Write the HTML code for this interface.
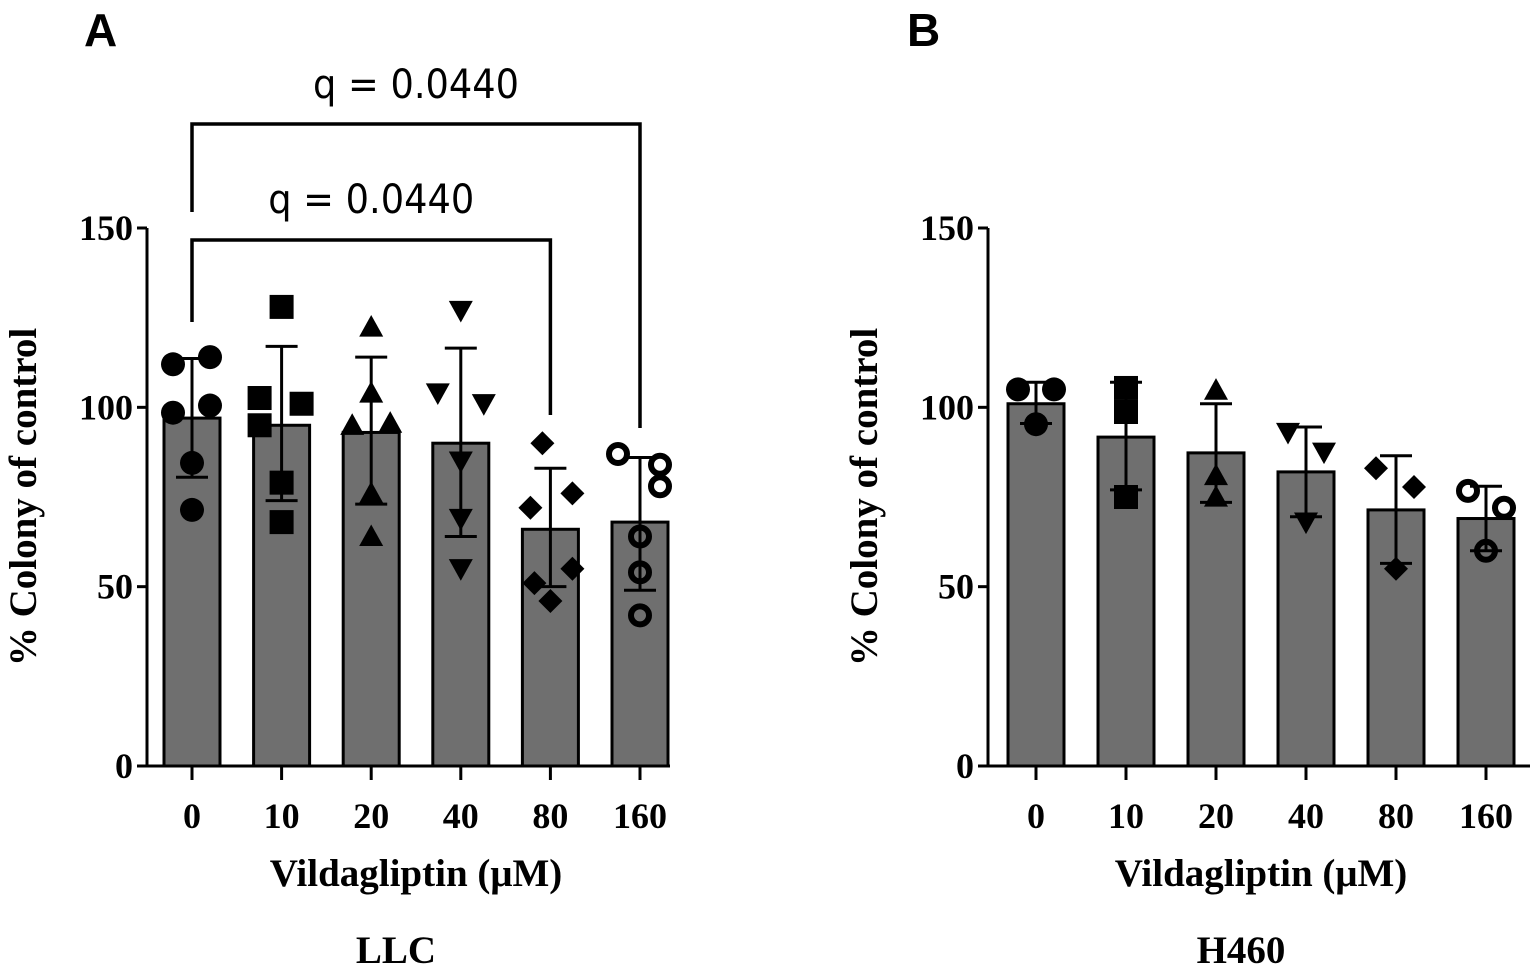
<!DOCTYPE html>
<html><head><meta charset="utf-8"><style>
html,body{margin:0;padding:0;background:#fff;}
svg{display:block;}
.tk{font-family:"Liberation Serif",serif;font-weight:bold;font-size:36px;}
.ttl{font-family:"Liberation Serif",serif;font-weight:bold;font-size:39px;}
.q{font-family:"DejaVu Sans","Liberation Sans",sans-serif;font-size:40px;}
.pl{font-family:"Liberation Sans",sans-serif;font-weight:bold;font-size:46px;}
</style></head><body>
<svg id="chart" width="1535" height="976" viewBox="0 0 1535 976"></svg>
<script>
const categories = ["0","10","20","40","80","160"];
const yTicks = [0,50,100,150];
const llcMeans = [97,95,93,90,66,68];
const llcErrHi = [113.6,117,114,116.5,83,86];
const llcErrLo = [80.5,74,73,64,50,49];
const llcPoints = [
  [112,114,98.5,100.5,84.5,71.4],
  [128,102.6,101,95,79,68],
  [122.4,104,95,95.6,76,64],
  [127,104,101,85,69,55],
  [90,76,72,55,51,46],
  [87,84,78,64,54,42]
];
const h460Means = [101,91.7,87.3,82,71.4,69];
const h460ErrHi = [107,107,101,94.5,86.5,78];
const h460ErrLo = [95.5,77,73.5,69.5,56.5,60];
const h460Points = [
  [105,105,95.3],
  [105.4,98.7,75],
  [104.8,81,75],
  [93,87.5,68],
  [83,77.8,55],
  [76.7,72,60]
];
const comparisons = [[0,4,"q = 0.0440"],[0,5,"q = 0.0440"]];

const NS="http://www.w3.org/2000/svg";
const svg=document.getElementById('chart');
function mk(tag,attrs,parent){const e=document.createElementNS(NS,tag);for(const k in attrs)e.setAttribute(k,attrs[k]);(parent||svg).appendChild(e);return e;}
const markers=["circle","square","up","down","diamond","ring"];
const jitA=[[-19,18,-19,18,0,0],[0,-22,20,-22,0,0],[0,0,-19,19,0,0],[0,-23,23,0,0,0],[-8,22,-20,22,-16,0],[-22,20,20,0,0,0]];
const jitB=[[-18,18,0],[0,0,0],[0,0,0],[-18,18,0],[-20,18,0],[-18,18,0]];
function marker(g,type,cx,cy){
  const r=12;
  if(type==="circle")mk('circle',{cx:cx,cy:cy,r:r,fill:'#000'},g);
  else if(type==="square")mk('rect',{x:cx-r,y:cy-r,width:2*r,height:2*r,fill:'#000'},g);
  else if(type==="up")mk('polygon',{points:`${cx},${cy-r} ${cx+r},${cy+r*0.8} ${cx-r},${cy+r*0.8}`,fill:'#000'},g);
  else if(type==="down")mk('polygon',{points:`${cx-r},${cy-r*0.8} ${cx+r},${cy-r*0.8} ${cx},${cy+r}`,fill:'#000'},g);
  else if(type==="diamond")mk('polygon',{points:`${cx},${cy-r} ${cx+r},${cy} ${cx},${cy+r} ${cx-r},${cy}`,fill:'#000'},g);
  else mk('circle',{cx:cx,cy:cy,r:r-3,fill:'none',stroke:'#000','stroke-width':6},g);
}
function panel(o){
  const y=v=>766-v*(538/150);
  const x=i=>o.x0+i*o.step;
  const g=mk('g',{});
  
  
  o.means.forEach((m,i)=>{
    const b=mk('rect',{x:x(i)-28,y:y(m),width:56,height:766-y(m),fill:'#6f6f6f',stroke:'#000','stroke-width':3},g);
    
    
  });
  o.points.forEach((arr,i)=>{arr.forEach((v,j)=>{marker(g,markers[i],x(i)+o.jit[i][j],y(v));});});
  o.means.forEach((m,i)=>{
    const e=mk('g',{stroke:'#000','stroke-width':3},g);
    
    
    mk('line',{x1:x(i),x2:x(i),y1:y(o.hi[i]),y2:y(o.lo[i])},e);
    mk('line',{x1:x(i)-16,x2:x(i)+16,y1:y(o.hi[i]),y2:y(o.hi[i])},e);
    mk('line',{x1:x(i)-16,x2:x(i)+16,y1:y(o.lo[i]),y2:y(o.lo[i])},e);
  });
  const ax=mk('g',{stroke:'#000','stroke-width':3},g);
  
  
  mk('line',{x1:o.ax,x2:o.ax,y1:y(150),y2:766},ax);
  mk('line',{x1:o.ax,x2:o.axEnd,y1:766,y2:766},ax);
  yTicks.forEach(t=>{
    mk('line',{x1:o.ax-10,x2:o.ax,y1:y(t),y2:y(t)},ax);
    const tx=mk('text',{x:o.ax-14,y:y(t)+12,'text-anchor':'end',class:'tk'},g);
    tx.textContent=t;
    
    
  });
  categories.forEach((c,i)=>{
    mk('line',{x1:x(i),x2:x(i),y1:766,y2:780},ax);
    const tx=mk('text',{x:x(i),y:828,'text-anchor':'middle',class:'tk'},g);
    tx.textContent=c;
    
    
  });
  const yt=mk('text',{x:0,y:0,'text-anchor':'middle',class:'ttl',transform:`translate(${o.ax-111},497) rotate(-90)`},g);
  yt.textContent='% Colony of control';
  
  
  const xt=mk('text',{x:(x(0)+x(5))/2,y:886,'text-anchor':'middle',class:'ttl'},g);
  xt.textContent='Vildagliptin (\u03bcM)';
  
  
  const ct=mk('text',{x:(x(0)+x(5))/2-20,y:963,'text-anchor':'middle',class:'ttl','font-size':'48'},g);
  ct.textContent=o.cell;
  
  
  const pl=mk('text',{x:o.labelX,y:46,class:'pl'},g);
  pl.textContent=o.label;
  
  
  return {x,y,g};
}
const A=panel({name:'panel-llc',x0:192,step:89.6,ax:147,axEnd:670,means:llcMeans,hi:llcErrHi,lo:llcErrLo,points:llcPoints,jit:jitA,cell:'LLC',label:'A',labelX:84});
panel({name:'panel-h460',x0:1036,step:90,ax:988,axEnd:1530,means:h460Means,hi:h460ErrHi,lo:h460ErrLo,points:h460Points,jit:jitB,cell:'H460',label:'B',labelX:907});
const brY=[240,124], brBottomL=[322,212], brBottomR=[415,428], txtY=[213,98];
comparisons.forEach((c,k)=>{
  const x1=A.x(c[0]),x2=A.x(c[1]);
  const p=mk('polyline',{points:`${x1},${brBottomL[k]} ${x1},${brY[k]} ${x2},${brY[k]} ${x2},${brBottomR[k]}`,fill:'none',stroke:'#000','stroke-width':3.5});
  
  
  const t=mk('text',{x:(x1+x2)/2,y:txtY[k],'text-anchor':'middle',class:'q',textLength:206,lengthAdjust:'spacingAndGlyphs'});
  t.textContent=c[2];
  
  
});
</script>
</body></html>
